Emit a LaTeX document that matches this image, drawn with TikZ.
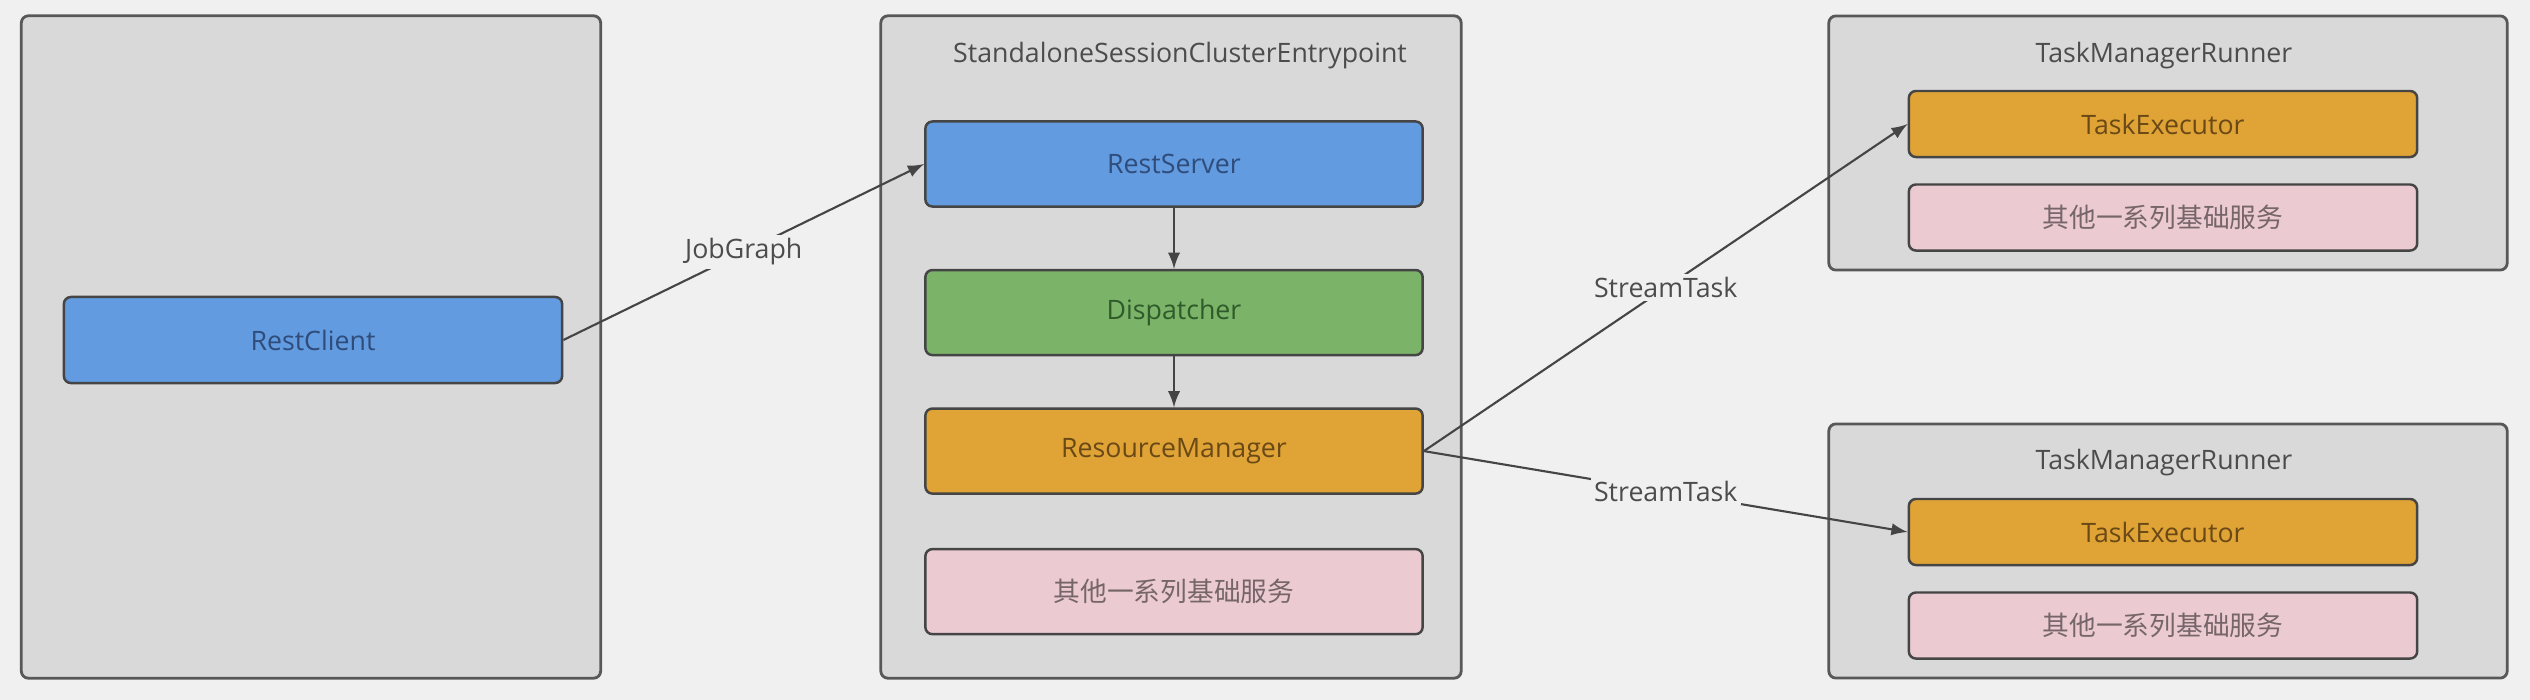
\documentclass[tikz,border=0pt]{standalone}
\usepackage{fontspec}
\setmainfont{Open Sans}
\newfontfamily\cjk{Noto Sans CJK SC}
\usetikzlibrary{positioning, arrows}
\definecolor{bgc}{HTML}{F0F0F0}
\definecolor{boxc}{HTML}{D9D9D9}
\definecolor{linec}{HTML}{454545}
\definecolor{bluec}{HTML}{629BE0}
\definecolor{greenc}{HTML}{7BB369}
\definecolor{orangec}{HTML}{E0A336}
\definecolor{pinkc}{HTML}{EBCBD1}
\definecolor{bluet}{HTML}{2F4C7A}
\definecolor{greent}{HTML}{2F5A2A}
\definecolor{oranget}{HTML}{6A4916}
\definecolor{pinkt}{HTML}{76666A}
\tikzset{outbox/.style={draw=linec!90, fill=boxc, line width=0.8pt, rounded corners=2pt, inner sep=0pt}}
\tikzset{inbox/.style={draw=linec, line width=0.7pt, rounded corners=2pt, inner sep=0pt, minimum width=4.97cm, minimum height=0.85cm, font=\fontsize{7.6}{9}\selectfont}}
\tikzset{tebox/.style={inbox, minimum width=5.08cm, minimum height=0.66cm}}
\tikzset{ttl/.style={text=black!70, font=\fontsize{7.6}{9}\selectfont}}
\tikzset{lbl/.style={fill=bgc, inner sep=1pt, text=black!70, font=\fontsize{7.6}{9}\selectfont}}
\tikzset{arr1/.style={draw=linec, -latex, line width=0.6pt}}

\begin{document}
\begin{tikzpicture}[x=0.01cm, y=-0.01cm]
		\fill[bgc] (0,0) rectangle (2530,700);
		\useasboundingbox (0,0) rectangle (2530,700);
		% containers
		\node[outbox, minimum width=5.79cm, minimum height=6.62cm] (cl) at (311,347) {};
		\node[outbox, minimum width=5.80cm, minimum height=6.62cm] (jm) at (1171,347) {};
		\node[outbox, minimum width=6.78cm, minimum height=2.54cm] (tm1) at (2168,143) {};
		\node[outbox, minimum width=6.78cm, minimum height=2.54cm] (tm2) at (2168,551) {};
		\node[ttl] (jmt) at (1180,56) {StandaloneSessionClusterEntrypoint};
		\node[ttl] (tmt1) at (2164,56) {TaskManagerRunner};
		\node[ttl] (tmt2) at (2164,463) {TaskManagerRunner};
%
		\node[inbox, fill=bluec, text=bluet, minimum width=4.98cm, minimum height=0.86cm] (rc) at (313,340) {RestClient};
		\node[inbox, fill=bluec, text=bluet] (rs) at (1174,164) {RestServer};
		\node[inbox, fill=greenc, text=greent, below=0.61cm of rs] (dp) {Dispatcher};
		\node[inbox, fill=orangec, text=oranget, below=0.51cm of dp] (rm) {ResourceManager};
		\node[inbox, fill=pinkc, text=pinkt, below=0.53cm of rm] (os) {\cjk 其他一系列基础服务};
%
		\node[tebox, fill=orangec, text=oranget] (te1) at (2163,124) {TaskExecutor};
		\node[tebox, fill=pinkc, text=pinkt, below=0.25cm of te1] (os1) {\cjk 其他一系列基础服务};
		\node[tebox, fill=orangec, text=oranget] (te2) at (2163,532) {TaskExecutor};
		\node[tebox, fill=pinkc, text=pinkt, below=0.25cm of te2] (os2) {\cjk 其他一系列基础服务};
%
		\draw[arr1] (rc.east) -- node[lbl]{JobGraph} (rs.west);
		\draw[arr1] (rs) -- (dp);
		\draw[arr1] (dp) -- (rm);
		\draw[arr1] (rm.east) -- node[lbl]{StreamTask} (te1.west);
		\draw[arr1] (rm.east) -- node[lbl]{StreamTask} (te2.west);
	\end{tikzpicture}
\end{document}
